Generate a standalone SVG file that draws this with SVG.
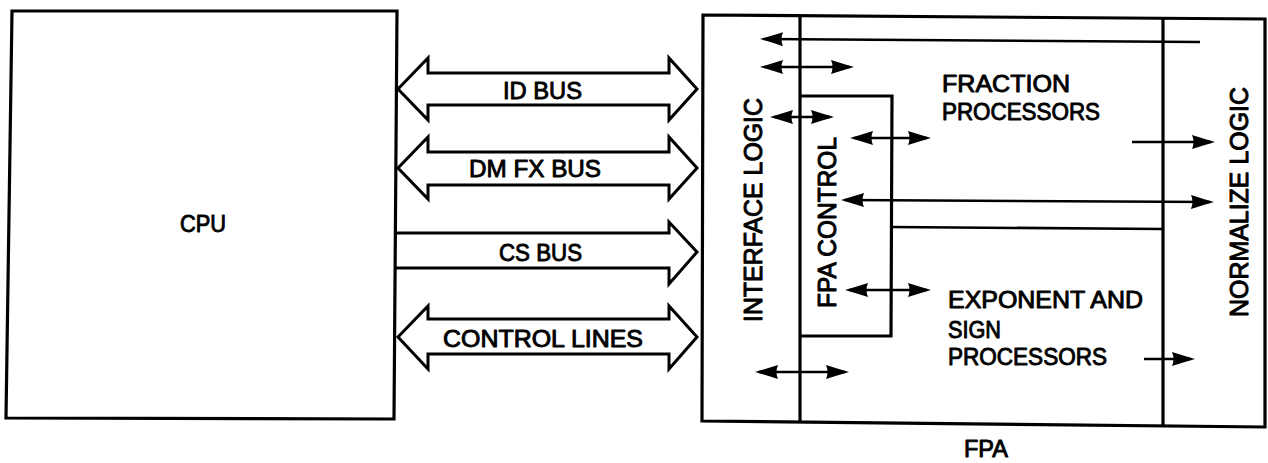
<svg xmlns="http://www.w3.org/2000/svg" width="1268" height="463" viewBox="0 0 1268 463">
<style>
.box{fill:none;stroke:#000;stroke-width:3.2;stroke-linejoin:miter}
.bus{fill:#fff;stroke:#000;stroke-width:3;stroke-linejoin:miter}
.busopen{fill:none;stroke:#000;stroke-width:3;stroke-linejoin:miter}
.ln{fill:none;stroke:#000;stroke-width:2.6}
.ar{fill:none;stroke:#000;stroke-width:2.6;marker-end:url(#ah)}
.dar{fill:none;stroke:#000;stroke-width:2.6;marker-start:url(#ah);marker-end:url(#ah)}
text{font-family:"Liberation Sans",Arial,Helvetica,sans-serif;font-size:23.5px;fill:#000;stroke:#000;stroke-width:0.9;stroke-linejoin:round}
.rot{font-size:26px;stroke-width:1}
</style>
<defs>
<marker id="ah" markerUnits="userSpaceOnUse" markerWidth="24" markerHeight="16" refX="19" refY="8" orient="auto-start-reverse" viewBox="0 0 24 16">
<path d="M0,1 Q11,4.5 23,8 Q11,11.5 0,15 Q3,8 0,1 Z" fill="#000"/>
</marker>
</defs>
<rect width="1268" height="463" fill="#fff"/>

<g id="cpu">
<polygon class="box" points="12,11 397,11 394,419 6,418"/>
<text x="180" y="232" textLength="46" lengthAdjust="spacingAndGlyphs">CPU</text>
</g>

<g id="connectors">
<g id="id-bus">
<polygon class="bus" points="398,89 428,58 428,73 669,73 669,58 697,89 669,120 669,105 428,105 428,120"/>
<text x="503" y="99" textLength="79" lengthAdjust="spacingAndGlyphs">ID BUS</text>
</g>
<g id="dmfx-bus">
<polygon class="bus" points="398,168 428,137 428,152 669,152 669,137 697,168 669,199 669,185 428,185 428,199"/>
<text x="469" y="177" textLength="132" lengthAdjust="spacingAndGlyphs">DM FX BUS</text>
</g>
<g id="cs-bus">
<path class="busopen" d="M396,233 L669,233 L669,222 L697,252 L669,284 L669,268 L396,268"/>
<text x="499" y="261" textLength="83" lengthAdjust="spacingAndGlyphs">CS BUS</text>
</g>
<g id="control-lines">
<polygon class="bus" points="398,337 428,306 428,319 669,319 669,306 697,337 669,369 669,354 428,354 428,369"/>
<text x="443" y="347" textLength="200" lengthAdjust="spacingAndGlyphs">CONTROL LINES</text>
</g>
<line class="ar" x1="1200" y1="42" x2="764" y2="39"/>
<line class="dar" x1="764" y1="67" x2="850" y2="67"/>
<line class="dar" x1="774" y1="117" x2="830" y2="117"/>
<line class="dar" x1="854" y1="138" x2="927" y2="138"/>
<line class="ar" x1="1132" y1="142" x2="1211" y2="142"/>
<line class="dar" x1="845" y1="200" x2="1210" y2="202"/>
<line class="dar" x1="849" y1="290" x2="927" y2="290"/>
<line class="ar" x1="1144" y1="359" x2="1191" y2="359"/>
<line class="dar" x1="759" y1="372" x2="845" y2="372"/>
</g>

<g id="fpa">
<polygon class="box" points="703,15 1265,19 1265,427 702,421"/>
<line class="box" x1="800" y1="15" x2="800" y2="422"/>
<line class="box" x1="1163" y1="18" x2="1163" y2="426"/>
<text x="964" y="457" textLength="44" lengthAdjust="spacingAndGlyphs">FPA</text>
</g>

<g id="interface-logic">
<text class="rot" x="762" y="322" transform="rotate(-90 762 322)" textLength="224" lengthAdjust="spacingAndGlyphs">INTERFACE LOGIC</text>
</g>

<g id="fpa-control">
<polyline class="box" points="800,96 892,96 891,336 800,336"/>
<line class="ln" x1="891" y1="227" x2="1163" y2="229"/>
<text class="rot" x="836" y="308" transform="rotate(-90 836 308)" textLength="171" lengthAdjust="spacingAndGlyphs">FPA CONTROL</text>
</g>

<g id="fraction-processors">
<text x="942" y="92" textLength="128" lengthAdjust="spacingAndGlyphs">FRACTION</text>
<text x="942" y="120" textLength="158" lengthAdjust="spacingAndGlyphs">PROCESSORS</text>
</g>

<g id="exponent-processors">
<text x="948" y="308" textLength="195" lengthAdjust="spacingAndGlyphs">EXPONENT AND</text>
<text x="948" y="338" textLength="53" lengthAdjust="spacingAndGlyphs">SIGN</text>
<text x="948" y="365" textLength="159" lengthAdjust="spacingAndGlyphs">PROCESSORS</text>
</g>

<g id="normalize-logic">
<text class="rot" x="1248" y="317" transform="rotate(-90 1248 317)" textLength="230" lengthAdjust="spacingAndGlyphs">NORMALIZE LOGIC</text>
</g>
</svg>
